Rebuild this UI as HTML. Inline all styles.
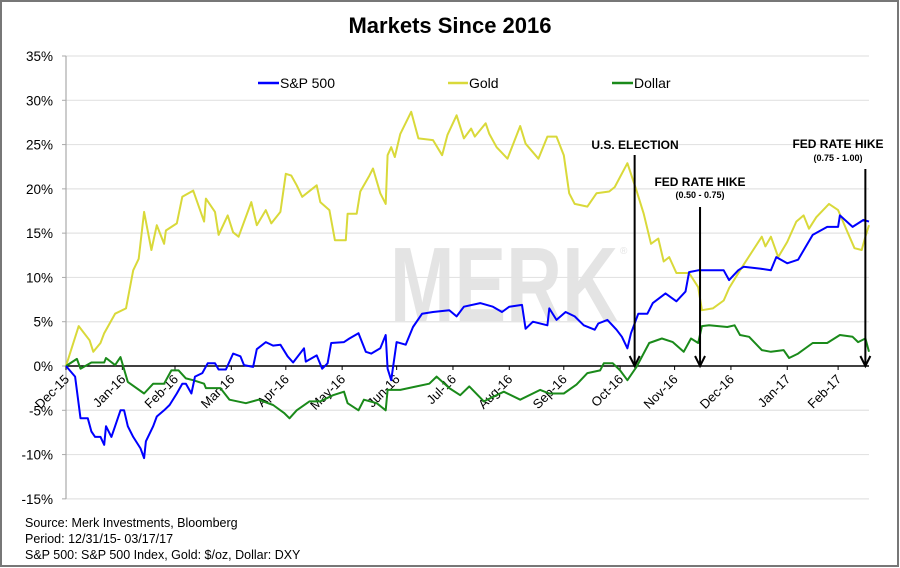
<!DOCTYPE html>
<html><head><meta charset="utf-8">
<style>
html,body{margin:0;padding:0;background:#fff;}
body{width:900px;height:568px;overflow:hidden;font-family:"Liberation Sans",Arial,sans-serif;}
svg{display:block;}
</style></head>
<body>
<svg id="chart" width="900" height="568" xmlns="http://www.w3.org/2000/svg">
<rect x="1" y="1" width="897" height="565" fill="#fff" stroke="#777" stroke-width="2"/>
<text x="450" y="33" text-anchor="middle" font-size="22" font-weight="bold" fill="#000">Markets Since 2016</text>
<text x="390" y="321" font-size="106" font-weight="bold" fill="#e4e4e4" textLength="228" lengthAdjust="spacingAndGlyphs">MERK</text>
<text x="620" y="254" font-size="10" fill="#e4e4e4">®</text>
<g id="grid"></g>
<g id="yaxis"></g>
<g id="xaxis"></g>
<g id="series"></g>
<g id="annot"></g>
<g font-size="14">
 <g><line x1="258" y1="83" x2="279" y2="83" stroke="#0000ff" stroke-width="2.5"/><text x="280" y="88">S&amp;P 500</text></g>
 <g><line x1="448" y1="83" x2="468" y2="83" stroke="#d9d93a" stroke-width="2.5"/><text x="469" y="88">Gold</text></g>
 <g><line x1="612" y1="83" x2="633" y2="83" stroke="#1a8a1a" stroke-width="2.5"/><text x="634" y="88">Dollar</text></g>
</g>
<g font-size="12.5" fill="#000">
 <text x="25" y="527">Source: Merk Investments, Bloomberg</text>
 <text x="25" y="543">Period: 12/31/15- 03/17/17</text>
 <text x="25" y="559">S&amp;P 500: S&amp;P 500 Index, Gold: $/oz, Dollar: DXY</text>
</g>
</svg>
<script>
const yTicks = [35,30,25,20,15,10,5,0,-5,-10,-15];
const monthLabels = ["Dec-15","Jan-16","Feb-16","Mar-16","Apr-16","May-16","Jun-16","Jul-16","Aug-16","Sep-16","Oct-16","Nov-16","Dec-16","Jan-17","Feb-17"];
const monthDays = [0,31,60,91,121,152,182,213,244,274,305,335,366,397,425];
const goldDays = [0,7,13,15,19,21,27,33,37,40,43,47,50,54,55,61,64,70,76,77,82,84,89,92,95,102,105,110,113,118,121,124,127,130,138,140,145,148,154,155,160,162,167,169,173,176,177,179,181,184,190,194,202,207,210,215,219,223,225,231,233,237,243,250,253,260,265,270,274,277,280,287,292,299,302,309,314,318,322,326,329,332,336,343,348,350,356,362,365,371,377,383,385,388,392,397,402,406,409,413,420,425,430,434,438,440,442];
const goldVals = [0,4.5,2.9,1.6,2.6,3.7,5.9,6.5,10.8,12.1,17.4,13.1,15.9,13.8,15.3,16.1,19.1,19.8,16.3,18.9,17.4,14.8,17.0,15.1,14.6,18.5,15.9,17.6,16.1,17.4,21.7,21.5,20.4,19.1,20.4,18.5,17.6,14.2,14.2,17.2,17.2,19.7,21.5,22.3,19.5,18.3,23.8,24.7,23.6,26.2,28.7,25.7,25.5,23.8,26.1,28.3,25.7,26.8,25.9,27.4,26.2,24.7,23.4,27.1,25.1,23.4,25.9,25.9,23.8,19.5,18.3,18.0,19.5,19.7,20.2,22.9,19.8,17.2,13.8,14.4,11.8,12.3,10.5,10.5,8.9,6.3,6.5,7.4,8.8,10.8,12.7,14.6,13.5,14.6,12.3,14.0,16.3,17.0,15.5,16.8,18.3,17.6,15.2,13.3,13.1,14.6,15.9];
const spDays = [0,5,8,12,14,16,19,21,22,25,27,30,32,34,37,41,43,44,48,50,54,57,61,64,66,69,71,75,78,82,84,88,92,96,98,103,105,110,114,118,122,125,131,132,138,141,144,146,153,156,161,165,168,173,176,177,179,182,187,191,196,202,211,215,219,228,235,240,244,251,253,257,265,266,270,275,280,285,291,293,298,303,306,309,311,315,320,323,330,336,341,343,348,354,362,365,370,373,382,388,391,397,403,411,419,425,426,433,439,442];
const spVals = [0,-1.2,-5.9,-5.9,-7.4,-8.0,-8.0,-8.9,-6.8,-8.0,-6.8,-5.0,-5.0,-6.8,-8.0,-9.3,-10.4,-8.5,-6.8,-5.7,-5.0,-4.4,-3.1,-2.0,-2.0,-3.1,-1.2,-0.8,0.3,0.3,-0.4,-0.4,1.4,1.1,0.1,-0.1,1.9,2.7,2.3,2.4,1.1,0.4,2.0,0.5,1.2,-0.3,0.3,2.6,2.7,3.1,3.7,1.6,1.4,2.0,3.5,-0.3,-1.6,2.7,2.4,4.4,5.9,6.1,6.3,5.6,6.7,7.1,6.7,6.1,6.7,6.9,4.2,5.0,4.6,6.5,5.2,6.1,5.6,4.6,4.1,4.8,5.2,4.1,3.3,2.0,3.7,5.9,5.9,7.1,8.2,7.3,8.4,10.6,10.8,10.8,10.8,9.7,10.8,11.2,11.0,10.8,12.3,11.6,12.0,14.8,15.7,15.7,17.0,15.7,16.5,16.3];
const usdDays = [0,6,8,14,21,22,27,30,34,43,48,54,58,62,66,70,76,77,85,90,99,106,114,120,123,127,134,140,147,153,155,161,164,171,176,177,184,193,200,204,211,217,222,230,241,250,261,266,274,281,287,294,296,301,305,309,314,321,328,334,340,344,348,350,354,364,368,371,376,383,388,395,398,403,411,419,426,433,436,440,442];
const usdVals = [0,0.8,-0.3,0.4,0.4,0.9,0.1,1.0,-1.8,-3.1,-2.0,-2.0,-0.5,-0.5,-1.4,-1.6,-2.0,-2.5,-2.5,-3.8,-4.2,-3.8,-4.4,-5.3,-5.9,-5.0,-4.0,-4.0,-3.3,-2.9,-4.2,-5.0,-3.8,-4.2,-5.0,-2.7,-2.7,-2.3,-2.0,-1.2,-2.5,-3.3,-2.3,-4.0,-2.9,-3.8,-2.7,-3.1,-3.1,-2.1,-0.8,-0.5,0.3,0.3,-0.5,-1.6,-0.1,2.6,3.1,2.7,1.6,3.1,2.6,4.5,4.6,4.4,4.6,3.5,3.3,1.8,1.6,1.8,0.9,1.4,2.6,2.6,3.5,3.3,2.7,3.1,1.6];
const eventDays = [313,349,440];
const eventLabels = ["U.S. ELECTION","FED RATE HIKE","FED RATE HIKE"];
const eventSubs = ["","(0.50 - 0.75)","(0.75 - 1.00)"];

const X0=66, X1=869, DMAX=442, Y0=366, PPCT=8.857;
const xs = d => X0 + (X1-X0)*d/DMAX;
const ys = v => Y0 - v*PPCT;
const NS="http://www.w3.org/2000/svg";
function mk(tag, parent, attrs){const e=document.createElementNS(NS,tag);for(const k in attrs)e.setAttribute(k,attrs[k]);parent.appendChild(e);return e;}

const grid=document.getElementById('grid'), yax=document.getElementById('yaxis'), xax=document.getElementById('xaxis');
yTicks.forEach(t=>{
  if(t!==0){const g=mk('line',grid,{x1:X0,x2:X1,y1:ys(t),y2:ys(t),stroke:'#e3e3e3','stroke-width':1.2});
  
  }
  const tk=mk('line',yax,{x1:X0-4,x2:X0,y1:ys(t),y2:ys(t),stroke:'#aaa'});
  
  
  const tx=mk('text',yax,{x:X0-13,y:ys(t)+5,'text-anchor':'end','font-size':13.5});
  tx.textContent=t+'%';
  
  
});
const ya=mk('line',yax,{x1:X0,x2:X0,y1:ys(35),y2:ys(-15),stroke:'#aaa','stroke-width':1.2});



const ser=document.getElementById('series');
function line(days, vals, color, name){
  const pts=days.map((d,i)=>xs(d).toFixed(1)+','+ys(vals[i]).toFixed(1)).join(' ');
  const p=mk('polyline',ser,{points:pts,fill:'none',stroke:color,'stroke-width':2,'stroke-linejoin':'round'});
  
  
}
line(goldDays,goldVals,'#d9d93a','gold-line');
line(usdDays,usdVals,'#1a8a1a','dollar-line');
line(spDays,spVals,'#0000ff','sp500-line');

const xa=mk('line',xax,{x1:X0,x2:X1,y1:Y0,y2:Y0,stroke:'#000','stroke-width':1.5});


monthDays.forEach((d,i)=>{
  const x=xs(d);
  const tk=mk('line',xax,{x1:x,x2:x,y1:Y0,y2:Y0+4,stroke:'#000'});
  
  
  const tx=mk('text',xax,{x:x+4,y:Y0+14,'text-anchor':'end','font-size':13,transform:`rotate(-45 ${x+4} ${Y0+14})`});
  tx.textContent=monthLabels[i];
  
  
});

const an=document.getElementById('annot');
const tops=[155,207,169], lblY=[149,186,148], subY=[0,198,161], lblX=[635,700,838];
eventDays.forEach((d,i)=>{
  const x=xs(d);
  const l=mk('line',an,{x1:x,x2:x,y1:tops[i],y2:Y0-2,stroke:'#000','stroke-width':2});
  
  
  const h=mk('path',an,{d:`M${x-5},${Y0-10} L${x},${Y0} L${x+5},${Y0-10}`,fill:'none',stroke:'#000','stroke-width':2});
  
  
  const t=mk('text',an,{x:lblX[i],y:lblY[i],'text-anchor':'middle','font-size':12,'font-weight':'bold'});
  t.textContent=eventLabels[i];
  
  
  if(eventSubs[i]){const s=mk('text',an,{x:lblX[i],y:subY[i],'text-anchor':'middle','font-size':9,'font-weight':'bold'});
  s.textContent=eventSubs[i];
  
  }
});
</script>
</body></html>
